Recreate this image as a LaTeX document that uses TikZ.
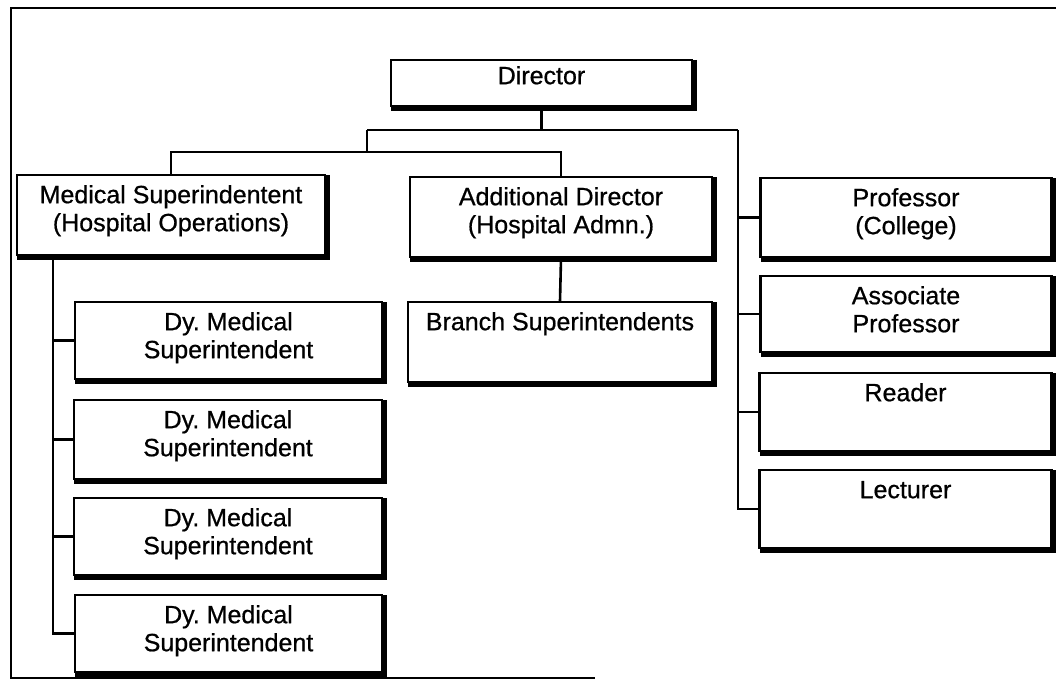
\documentclass[tikz,border=0pt]{standalone}
\usepackage{fontspec}
\setmainfont{Liberation Sans}
\newfontfamily\lblfont[FakeBold=0.7]{Liberation Sans}
\frenchspacing
\begin{document}
\begin{tikzpicture}[x=1pt,y=-1pt,
  orgbox/.style={draw, line width=2.2pt, inner sep=0pt, fill=white},
  lbl/.style={font=\lblfont\fontsize{25}{28}\selectfont, align=center, inner sep=0pt, anchor=north},
  toptext/.style={lbl, yshift=-9.5pt},
  conn/.style={line width=2.6pt},
  frame/.style={line width=2.2pt}]
\useasboundingbox (0,0) rectangle (1056,682);

% heavy right and bottom edge of a box
\newcommand\heavyedge[1]{%
  \draw[line width=4pt]
    ([xshift=1.6pt,yshift=-1.1pt]#1.north east) --
    ([xshift=1.6pt,yshift=-1.6pt]#1.south east) --
    ([xshift=1.1pt,yshift=-1.6pt]#1.south west);}

% outer frame
\draw[frame] (1056,8) -- (11,8) -- (11,678) -- (595,678);

% boxes
\node[orgbox, minimum width=301pt, minimum height=46pt] (dir)    at (541.5,83)   {};
\node[orgbox, minimum width=308pt, minimum height=80pt] (med)    at (171,215)    {};
\node[orgbox, minimum width=302pt, minimum height=80pt] (add)    at (561,217)    {};
\node[orgbox, minimum width=291pt, minimum height=79pt] (prof)   at (906,217.5)  {};
\node[orgbox, minimum width=291pt, minimum height=76pt] (assoc)  at (906,314)    {};
\node[orgbox, minimum width=292pt, minimum height=78pt] (reader) at (905.5,412)  {};
\node[orgbox, minimum width=292pt, minimum height=78pt] (lect)   at (905.5,509)  {};
\node[orgbox, minimum width=304pt, minimum height=80pt] (branch) at (560,342)    {};
\node[orgbox, minimum width=307pt, minimum height=77pt] (dya)    at (228.5,340.5){};
\node[orgbox, minimum width=308pt, minimum height=79pt] (dyb)    at (228,439.5)  {};
\node[orgbox, minimum width=308pt, minimum height=77pt] (dyc)    at (228,536.5)  {};
\node[orgbox, minimum width=307pt, minimum height=77pt] (dyd)    at (228.5,633.5){};

\foreach \b in {dir,med,add,prof,assoc,reader,lect,branch,dya,dyb,dyc,dyd}{\heavyedge{\b}}

% labels
\node[lbl, yshift=-5.5pt] (dirT) at (dir.north) {\strut Director};
\node[toptext] (medT)    at (med.north)    {\strut Medical Superindentent\\(Hospital Operations)};
\node[toptext] (addT)    at (add.north)    {\strut Additional Director\\(Hospital Admn.)};
\node[toptext] (profT)   at (prof.north)   {\strut Professor\\(College)};
\node[toptext] (assocT)  at (assoc.north)  {\strut Associate\\Professor};
\node[toptext] (readerT) at (reader.north) {\strut Reader};
\node[toptext] (lectT)   at (lect.north)   {\strut Lecturer};
\node[toptext] (branchT) at (branch.north) {\strut Branch Superintendents};
\node[toptext] (dyaT)    at (dya.north)    {\strut Dy. Medical\\Superintendent};
\node[toptext] (dybT)    at (dyb.north)    {\strut Dy. Medical\\Superintendent};
\node[toptext] (dycT)    at (dyc.north)    {\strut Dy. Medical\\Superintendent};
\node[toptext] (dydT)    at (dyd.north)    {\strut Dy. Medical\\Superintendent};

% junctions
\coordinate (j1) at (541.5,130);
\coordinate (jL) at (367,130);
\coordinate (jR) at (738,130);
\coordinate (j2) at (367,152);
\path (med.south west) ++(37,0) coordinate (ms);

% connectors
\draw[conn] (dir.south) -- (j1);
\draw[conn] (jL) -- (jR);
\draw[conn] (jL) -- (j2);
\draw[conn] (med.north) |- (j2) -| (add.north);
\draw[conn] (add.south) -- (branch.north);
\draw[conn] (jR) |- (lect.west);
\foreach \b in {prof,assoc,reader}{\draw[conn] (\b.west -| jR) -- (\b.west);}
\draw[conn] (ms) |- (dyd.west);
\foreach \b in {dya,dyb,dyc}{\draw[conn] (\b.west -| ms) -- (\b.west);}
\end{tikzpicture}
\end{document}
